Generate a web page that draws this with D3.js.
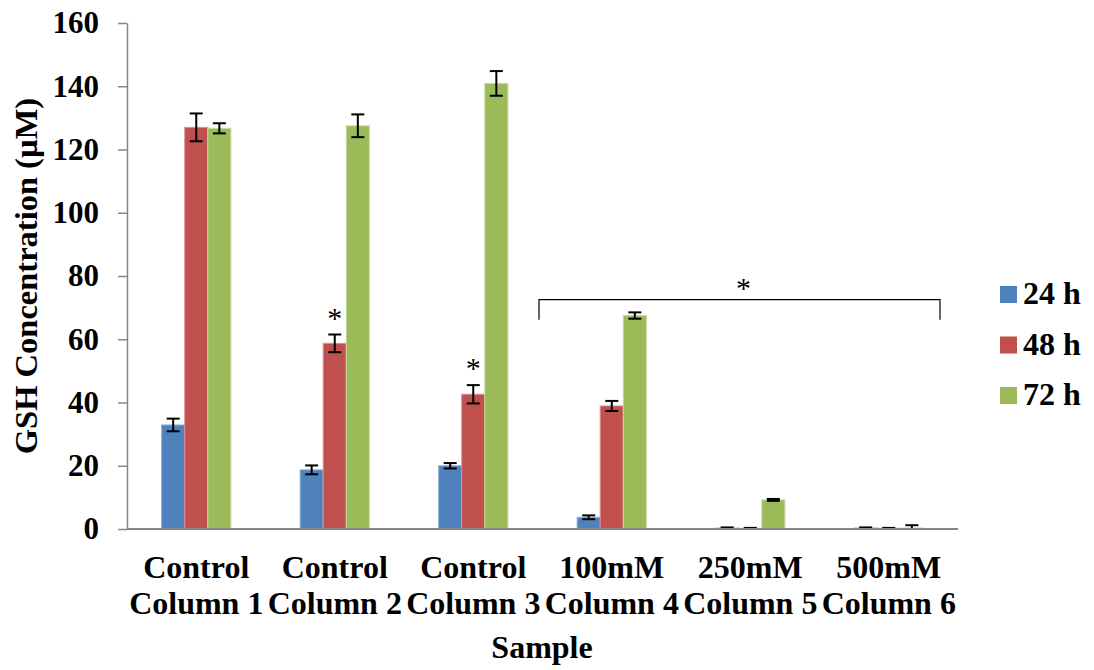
<!DOCTYPE html>
<html>
<head>
<meta charset="utf-8">
<script src="https://cdn.jsdelivr.net/npm/d3@7"></script>
<style>
  html, body { margin: 0; padding: 0; background: #fff; }
  svg { display: block; }
  text { font-family: "Liberation Serif", "Times New Roman", serif; }
</style>
</head>
<body>
<svg id="chart" width="1094" height="670"></svg>
<script>
// Sample groups (two-line labels)
const categories = ["c1", "c2", "c3", "c4", "c5", "c6"];
const labelTop = ["Control", "Control", "Control", "100mM", "250mM", "500mM"];
const labelBottom = ["Column 1", "Column 2", "Column 3", "Column 4", "Column 5", "Column 6"];

// Incubation times
const series = ["24 h", "48 h", "72 h"];
const colors = ["#4F81BD", "#C0504D", "#9BBB59"];
const edgeColors = ["#8fb0d9", "#dc8f8d", "#c6da9f"];

// GSH concentration (µM), mean per group for each time point
const values24 = [32.9, 18.7, 20.0, 3.7, 0.3, 0.3];
const values48 = [127.0, 58.7, 42.6, 38.9, 0.2, 0.2];
const values72 = [126.7, 127.5, 140.9, 67.5, 9.2, 0.3];

// Error bar half-widths
const errors24 = [2.0, 1.4, 0.85, 0.6, 0.2, 0.2];
const errors48 = [4.4, 2.8, 2.9, 1.6, 0.15, 0.15];
const errors72 = [1.6, 3.6, 3.9, 1.0, 0.3, 0.9];

const yTicks = [0, 20, 40, 60, 80, 100, 120, 140, 160];

const values = [values24, values48, values72];
const errors = [errors24, errors48, errors72];

const svg = d3.select("#chart");

const x0 = d3.scaleBand()
  .domain(categories)
  .range([127, 958])
  .paddingInner(0.5)
  .paddingOuter(0.25);

const x1 = d3.scaleBand()
  .domain(series)
  .range([0, x0.bandwidth()])
  .padding(0);

const y = d3.scaleLinear().domain([0, 160]).range([529, 23]);

const axisColor = "#868686";

// Y axis
const yAxis = svg.append("g")
  .attr("transform", "translate(127,0)")
  .call(d3.axisLeft(y).tickValues(yTicks).tickSize(9).tickPadding(19).tickSizeOuter(0));
yAxis.select(".domain").attr("stroke", axisColor).attr("stroke-width", 1.5);
yAxis.selectAll(".tick line").attr("stroke", axisColor).attr("stroke-width", 1.5);
yAxis.selectAll(".tick text")
  .attr("fill", "#000")
  .style("font-size", "31px")
  .style("font-weight", "bold")
  .style("font-family", "'Liberation Serif', serif");

// Bars
const groups = svg.append("g").selectAll("g")
  .data(categories)
  .join("g")
  .attr("transform", d => `translate(${x0(d)},0)`);

series.forEach((s, si) => {
  groups.append("rect")
    .attr("x", x1(s))
    .attr("width", x1.bandwidth())
    .attr("y", (d, i) => y(values[si][i]))
    .attr("height", (d, i) => y(0) - y(values[si][i]))
    .attr("fill", colors[si])
    .attr("stroke", edgeColors[si])
    .attr("stroke-width", 1);
});

// Error bars
series.forEach((s, si) => {
  const cx = x1(s) + x1.bandwidth() / 2;
  const cap = 6.5;
  groups.each(function(d, i) {
    const g = d3.select(this);
    const v = values[si][i], e = errors[si][i];
    const yt = y(v + e), yb = y(Math.max(0, v - e));
    g.append("line").attr("x1", cx).attr("x2", cx).attr("y1", yt).attr("y2", yb)
      .attr("stroke", "#000").attr("stroke-width", 2);
    g.append("line").attr("x1", cx - cap).attr("x2", cx + cap).attr("y1", yt).attr("y2", yt)
      .attr("stroke", "#000").attr("stroke-width", 2);
    g.append("line").attr("x1", cx - cap).attr("x2", cx + cap).attr("y1", yb).attr("y2", yb)
      .attr("stroke", "#000").attr("stroke-width", 2);
  });
});

// X axis baseline
svg.append("line")
  .attr("x1", 127).attr("x2", 958)
  .attr("y1", y(0)).attr("y2", y(0))
  .attr("stroke", axisColor).attr("stroke-width", 2);

// Category labels
const xLabels = svg.append("g");
categories.forEach((c, i) => {
  const cx = x0(c) + x0.bandwidth() / 2;
  xLabels.append("text")
    .attr("x", cx).attr("y", 578)
    .attr("text-anchor", "middle")
    .style("font-size", "32px").style("font-weight", "bold")
    .text(labelTop[i]);
  xLabels.append("text")
    .attr("x", cx).attr("y", 614)
    .attr("text-anchor", "middle")
    .style("font-size", "32px").style("font-weight", "bold")
    .text(labelBottom[i]);
});

// Axis titles
svg.append("text")
  .attr("x", 542).attr("y", 658)
  .attr("text-anchor", "middle")
  .style("font-size", "32px").style("font-weight", "bold")
  .text("Sample");

svg.append("text")
  .attr("transform", `translate(37,${276}) rotate(-90)`)
  .attr("text-anchor", "middle")
  .style("font-size", "32.5px").style("font-weight", "bold")
  .text("GSH Concentration (µM)");

// Significance markers
const starStyle = sel => sel
  .attr("text-anchor", "middle")
  .style("font-size", "30px")
  .style("font-family", "'Liberation Serif', serif");

const redCx = i => x0(categories[i]) + x1(series[1]) + x1.bandwidth() / 2;
[1, 2].forEach(i => {
  svg.append("text")
    .attr("x", redCx(i))
    .attr("y", y(values48[i] + errors48[i]) - 7)
    .call(starStyle)
    .text("*");
});

// Bracket over the treated columns
const bx1 = 539, bx2 = 940, by = y(72.5), byEnd = y(66.2);
svg.append("path")
  .attr("d", `M${bx1},${byEnd}V${by}H${bx2}V${byEnd}`)
  .attr("fill", "none").attr("stroke", "#000").attr("stroke-width", 1.2);
svg.append("text")
  .attr("x", (bx1 + bx2) / 2 + 4)
  .attr("y", by - 2)
  .call(starStyle)
  .text("*");

// Legend
const legend = svg.append("g").attr("transform", "translate(1000,286)");
series.forEach((s, i) => {
  const row = legend.append("g").attr("transform", `translate(0,${i * 50.5})`);
  row.append("rect").attr("width", 17).attr("height", 17).attr("fill", colors[i]);
  row.append("text")
    .attr("x", 23).attr("y", 18)
    .style("font-size", "32px").style("font-weight", "bold")
    .text(s);
});
</script>
</body>
</html>
